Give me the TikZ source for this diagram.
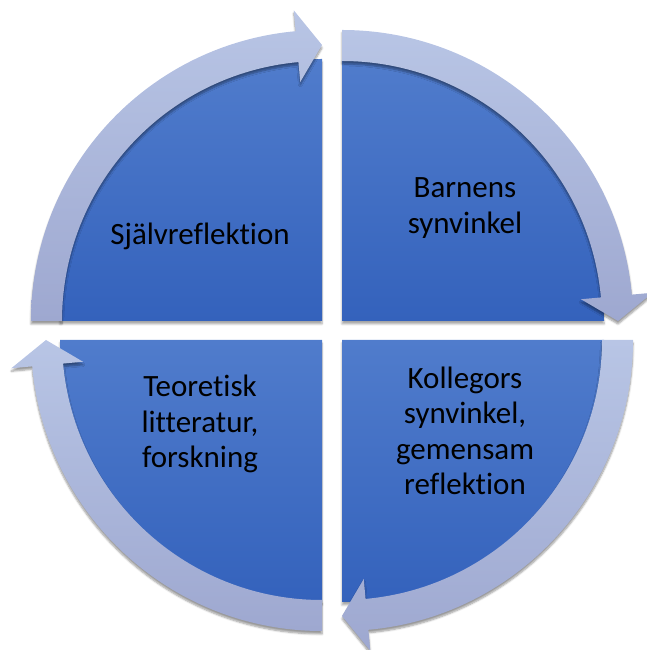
\documentclass[tikz,border=0pt]{standalone}
\usepackage{fontspec}
\setmainfont{Carlito}[Ligatures=NoCommon]
\usetikzlibrary{calc,shadows.blur}
\definecolor{qtop}{RGB}{80,124,204}
\definecolor{qbot}{RGB}{52,98,188}
\definecolor{rtop}{RGB}{184,197,229}
\definecolor{rbot}{RGB}{158,168,208}
\tikzset{
  quad/.style={top color=qtop, bottom color=qbot, blur shadow={shadow xshift=0pt, shadow yshift=-3pt, shadow blur steps=6, shadow opacity=35}},
  ring/.style={top color=rtop, bottom color=rbot, blur shadow={shadow xshift=0pt, shadow yshift=-3pt, shadow blur steps=6, shadow opacity=40}},
  lbl/.style={font=\fontsize{31pt}{35.5pt}\selectfont, align=center, text=black}
}
\newcommand\quadsector[2]{%
  \path[quad] (#1) -- ($(#1)+(#2:262pt)$) arc[start angle=#2, end angle={#2-90}, radius=262pt] -- cycle;}
\newcommand\ringarrow[2]{%
  \path[ring] ($(#1)+(#2:291pt)$) arc[start angle=#2, end angle={#2-84.8}, radius=291pt]
    -- ($(#1)+({#2-84.8}:312pt)$) -- ($(#1)+({#2-90}:276pt)$) -- ($(#1)+({#2-84.8}:240pt)$)
    -- ($(#1)+({#2-84.8}:260pt)$) arc[start angle={#2-84.8}, end angle=#2, radius=260pt] -- cycle;}
\begin{document}
\begin{tikzpicture}[x=1pt,y=1pt]
\useasboundingbox (0,0) rectangle (646,650);
\coordinate (tl) at (322,329);
\coordinate (tr) at (342,329);
\coordinate (br) at (342,310);
\coordinate (bl) at (322,310);
\quadsector{tl}{180}
\quadsector{tr}{90}
\quadsector{br}{0}
\quadsector{bl}{-90}
\ringarrow{tl}{180}
\ringarrow{tr}{90}
\ringarrow{br}{0}
\ringarrow{bl}{270}
\node[lbl] (q1) at (200,414) {Självreflektion};
\node[lbl] (q2) at (465,442) {Barnens\\synvinkel};
\node[lbl] (q3) at (465,219) {Kollegors\\synvinkel,\\gemensam\\reflektion};
\node[lbl] (q4) at (200,226) {Teoretisk\\litteratur,\\forskning};
\end{tikzpicture}
\end{document}
